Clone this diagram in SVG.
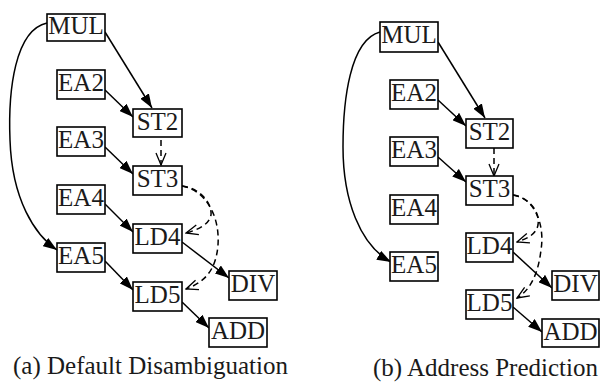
<svg xmlns="http://www.w3.org/2000/svg" width="605" height="383" viewBox="0 0 605 383">
<defs>
<style>
rect{fill:#fff;stroke:#000;stroke-width:1.6}
text{font-size:25px;fill:#1a1a1a}
.n text{text-anchor:middle}
.e{fill:none;stroke:#000;stroke-width:1.5}
.s{marker-end:url(#fa)}
.d{stroke-dasharray:6 4;marker-end:url(#oa)}
</style>
<marker id="fa" viewBox="0 0 14 10" refX="14" refY="5" markerWidth="14" markerHeight="10" markerUnits="userSpaceOnUse" orient="auto"><path d="M0,0 L14,5 L0,10 z" fill="#000"/></marker>
<marker id="oa" viewBox="0 0 14 12" refX="13" refY="6" markerWidth="14" markerHeight="12" markerUnits="userSpaceOnUse" orient="auto"><path d="M1,1 L13,6 L1,11" fill="none" stroke="#000" stroke-width="1.3"/></marker>
</defs>
<g id="connectors">
<path class="e s" d="M105,32 L152,108"/>
<path class="e s" d="M105,90 L133,117"/>
<path class="e d" d="M161,140 L161,165"/>
<path class="e s" d="M105,147 L133,174"/>
<path class="e s" d="M105,204 L133,232"/>
<path class="e s" d="M105,261 L133,290"/>
<path class="e s" d="M182,242 L229,278"/>
<path class="e s" d="M182,302 L209,328"/>
<path class="e s" d="M47,23 C15,30 8,90 10,140 C12,200 35,235 57,250"/>
<path class="e d" d="M182,186 C200,188 212,203 211,215 C209,225 197,230 186,233"/>
<path class="e d" d="M182,186 C205,190 220,215 218,245 C216,270 205,282 186,289"/>
<path class="e s" d="M438,42 L485,118"/>
<path class="e s" d="M438,100 L466,126"/>
<path class="e d" d="M494,148 L494,176"/>
<path class="e s" d="M438,157 L466,182"/>
<path class="e s" d="M513,252 L552,288"/>
<path class="e s" d="M513,307 L542,332"/>
<path class="e s" d="M380,32 C350,40 343,100 343,147 C343,200 360,245 391,262"/>
<path class="e d" d="M513,195 C530,198 540,212 538,225 C536,235 526,239 517,242"/>
<path class="e d" d="M513,195 C535,198 545,225 541,250 C538,275 530,290 517,298"/>
</g>
<g font-family="'Liberation Serif', 'DejaVu Serif', 'Noto Serif', 'Times New Roman', Times, serif">
<g id="a-MUL" class="n"><rect x="47" y="14" width="58" height="27"/><text x="76" y="34">MUL</text></g>
<g id="a-EA2" class="n"><rect x="57" y="70" width="48" height="29"/><text x="81" y="91">EA2</text></g>
<g id="a-ST2" class="n"><rect x="133" y="109" width="49" height="28"/><text x="157.5" y="130">ST2</text></g>
<g id="a-EA3" class="n"><rect x="57" y="127" width="48" height="29"/><text x="81" y="148">EA3</text></g>
<g id="a-ST3" class="n"><rect x="133" y="166" width="49" height="29"/><text x="157.5" y="187">ST3</text></g>
<g id="a-EA4" class="n"><rect x="57" y="185" width="48" height="29"/><text x="81" y="206">EA4</text></g>
<g id="a-LD4" class="n"><rect x="133" y="224" width="49" height="29"/><text x="157.5" y="245">LD4</text></g>
<g id="a-EA5" class="n"><rect x="57" y="243" width="48" height="29"/><text x="81" y="264">EA5</text></g>
<g id="a-DIV" class="n"><rect x="229" y="271" width="48" height="29"/><text x="253" y="292">DIV</text></g>
<g id="a-LD5" class="n"><rect x="133" y="282" width="49" height="29"/><text x="157.5" y="303">LD5</text></g>
<g id="a-ADD" class="n"><rect x="209" y="318" width="58" height="29"/><text x="238" y="339">ADD</text></g>
<g id="b-MUL" class="n"><rect x="380" y="22" width="58" height="30"/><text x="409" y="43">MUL</text></g>
<g id="b-EA2" class="n"><rect x="390" y="80" width="48" height="29"/><text x="414" y="101">EA2</text></g>
<g id="b-ST2" class="n"><rect x="466" y="119" width="47" height="29"/><text x="489.5" y="140">ST2</text></g>
<g id="b-EA3" class="n"><rect x="390" y="137" width="48" height="29"/><text x="414" y="158">EA3</text></g>
<g id="b-ST3" class="n"><rect x="466" y="176" width="47" height="29"/><text x="489.5" y="197">ST3</text></g>
<g id="b-EA4" class="n"><rect x="390" y="195" width="48" height="29"/><text x="414" y="216">EA4</text></g>
<g id="b-LD4" class="n"><rect x="466" y="233" width="47" height="29"/><text x="489.5" y="254">LD4</text></g>
<g id="b-EA5" class="n"><rect x="390" y="252" width="48" height="29"/><text x="414" y="273">EA5</text></g>
<g id="b-DIV" class="n"><rect x="552" y="271" width="47" height="29"/><text x="575.5" y="292">DIV</text></g>
<g id="b-LD5" class="n"><rect x="466" y="290" width="47" height="29"/><text x="489.5" y="311">LD5</text></g>
<g id="b-ADD" class="n"><rect x="542" y="319" width="57" height="28"/><text x="570.5" y="340">ADD</text></g>
<text x="13" y="374">(a) Default Disambiguation</text>
<text x="373" y="376">(b) Address Prediction</text>
</g>
</svg>
